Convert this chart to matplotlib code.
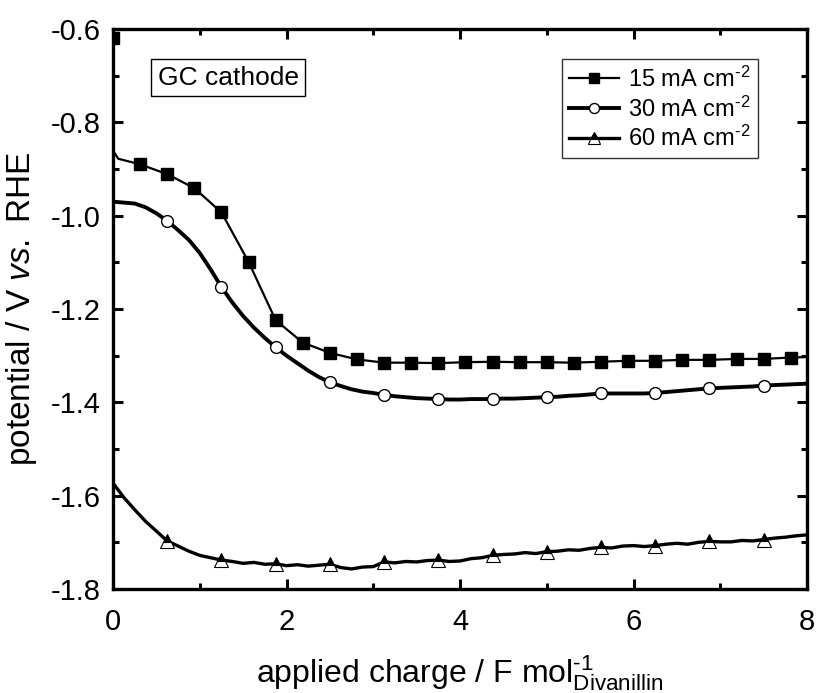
import numpy as np
import matplotlib
matplotlib.use("Agg")
import matplotlib.pyplot as plt

plt.rcParams['font.family'] = ['Liberation Sans', 'DejaVu Sans']
plt.rcParams['mathtext.fontset'] = 'custom'
plt.rcParams['mathtext.rm'] = 'Liberation Sans'
plt.rcParams['mathtext.it'] = 'Liberation Sans:italic'
plt.rcParams['mathtext.bf'] = 'Liberation Sans:bold'

# ---------------- data ----------------
# 15 mA cm-2 (smooth curve, squares every 0.3125 F/mol)
charge_15 = [0.0, 0.005, 0.06, 0.3125, 0.625, 0.9375, 1.25, 1.5625, 1.875, 2.1875, 2.5,
             2.8125, 3.125, 3.4375, 3.75, 4.0625, 4.375, 4.6875, 5.0, 5.3125, 5.625,
             5.9375, 6.25, 6.5625, 6.875, 7.1875, 7.5, 7.8125, 8.0]
pot_15 = [-0.62, -0.862, -0.878, -0.890, -0.911, -0.941, -0.993, -1.099, -1.224, -1.272, -1.294,
          -1.308, -1.315, -1.315, -1.316, -1.314, -1.313, -1.314, -1.314, -1.315, -1.313,
          -1.311, -1.311, -1.309, -1.309, -1.307, -1.307, -1.304, -1.303]
marks_15 = [0] + list(range(3, 28))

# 30 and 60 mA cm-2 sampled every 0.125 F/mol from 0 to 8
charge_grid = np.linspace(0, 8, 65)
pot_30 = [-0.970, -0.972, -0.974, -0.982, -0.995, -1.011, -1.031, -1.052, -1.080, -1.115,
          -1.153, -1.186, -1.215, -1.240, -1.262, -1.282, -1.300, -1.316, -1.332, -1.346,
          -1.357, -1.365, -1.372, -1.377, -1.380, -1.384, -1.387, -1.389, -1.391, -1.392,
          -1.393, -1.394, -1.394, -1.393, -1.393, -1.393, -1.392, -1.392, -1.391, -1.390,
          -1.389, -1.388, -1.386, -1.385, -1.383, -1.381, -1.381, -1.381, -1.381, -1.381,
          -1.380, -1.378, -1.376, -1.374, -1.372, -1.370, -1.369, -1.368, -1.367, -1.366,
          -1.364, -1.363, -1.362, -1.361, -1.360]
pot_60 = [-1.573, -1.604, -1.630, -1.655, -1.676, -1.697, -1.708, -1.719, -1.728, -1.733,
          -1.738, -1.741, -1.745, -1.743, -1.747, -1.746, -1.750, -1.748, -1.751, -1.749,
          -1.747, -1.754, -1.757, -1.753, -1.752, -1.742, -1.744, -1.741, -1.742, -1.739,
          -1.738, -1.741, -1.740, -1.735, -1.733, -1.728, -1.726, -1.725, -1.722, -1.724,
          -1.720, -1.719, -1.716, -1.717, -1.713, -1.711, -1.712, -1.708, -1.707, -1.709,
          -1.707, -1.704, -1.702, -1.704, -1.700, -1.698, -1.699, -1.699, -1.696, -1.697,
          -1.694, -1.691, -1.689, -1.686, -1.684]
labels = [r'15 mA cm$^{\text{-2}}$', r'30 mA cm$^{\text{-2}}$', r'60 mA cm$^{\text{-2}}$']

x_ticks = [0, 2, 4, 6, 8]
y_ticks = [-1.8, -1.6, -1.4, -1.2, -1.0, -0.8, -0.6]

# ---------------- figure ----------------
fig = plt.figure(figsize=(8.19, 6.93), dpi=100)
ax = fig.add_axes([113/819, 1-589/693, 694/819, 560/693])

ax.plot(charge_15, pot_15, color='black', lw=1.6, marker='s', markersize=8.5,
        markevery=marks_15, markerfacecolor='black', markeredgecolor='black',
        label=labels[0])
ax.plot(charge_grid, pot_30, color='black', lw=2.8, marker='o', markersize=8.5,
        markevery=slice(5, None, 5), markerfacecolor='white', markeredgecolor='black',
        markeredgewidth=1.0, label=labels[1])
ax.plot(charge_grid, pot_60, color='black', lw=2.4, marker='^', markersize=10,
        markevery=slice(5, None, 5), fillstyle='top', markerfacecolor='black',
        markerfacecoloralt='white', markeredgecolor='black', markeredgewidth=0.8,
        label=labels[2])

ax.set_xlim(0, 8)
ax.set_ylim(-1.8, -0.6)
ax.set_xticks(x_ticks)
ax.set_xticklabels([f'{v:g}' for v in x_ticks])
ax.set_yticks(y_ticks)
ax.set_yticklabels([f'{v:.1f}' for v in y_ticks])
ax.set_xticks(np.arange(1, 8, 2), minor=True)
ax.set_yticks(np.arange(-1.7, -0.6, 0.2), minor=True)

ax.tick_params(which='both', direction='in', top=True, right=True, labelsize=21, width=2.2)
ax.tick_params(which='major', length=7)
ax.tick_params(which='minor', length=4)
ax.tick_params(axis='x', pad=14)
ax.tick_params(axis='y', pad=9)
for sp in ax.spines.values():
    sp.set_linewidth(2.4)

ax.set_xlabel(r'applied charge / F $\mathrm{mol}^{\text{-1}}_{\mathrm{Divanillin}}$', fontsize=23, labelpad=12)
ax.set_ylabel(r'potential / V $\mathit{vs.}$ RHE', fontsize=24, labelpad=8)

ax.text(0.166, 0.913, 'GC cathode', transform=ax.transAxes, fontsize=19,
        ha='center', va='center',
        bbox=dict(boxstyle='square,pad=0.25', facecolor='white', edgecolor='black', linewidth=1.0))

leg = ax.legend(loc='upper right', bbox_to_anchor=(0.929, 0.946), fontsize=17,
                frameon=True, fancybox=False, handlelength=2.1, handletextpad=0.4,
                borderpad=0.3, labelspacing=0.2, borderaxespad=0, numpoints=1,
                markerscale=0.85)
leg.get_frame().set_edgecolor('black')
leg.get_frame().set_linewidth(1.0)

fig.savefig('out.png', dpi=100)
